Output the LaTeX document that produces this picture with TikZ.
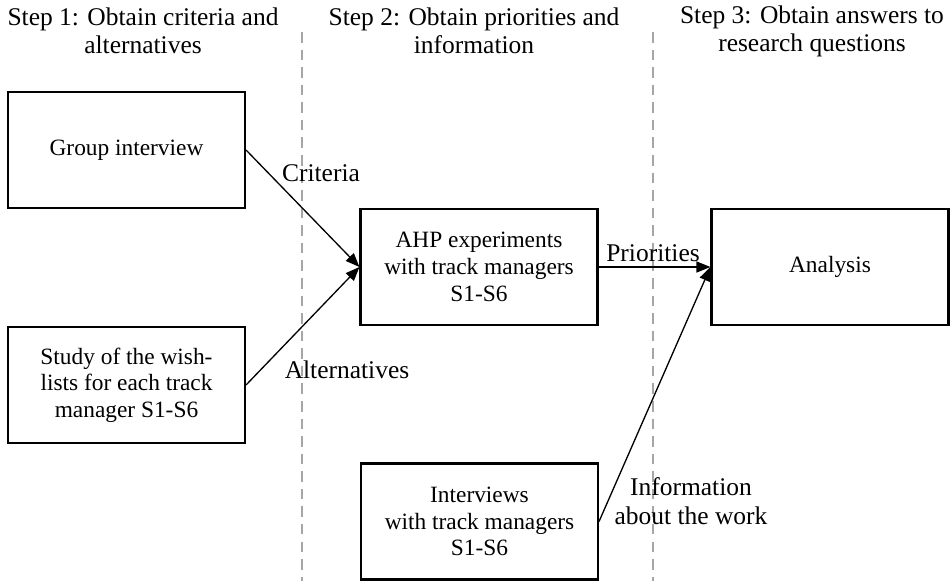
\documentclass[tikz,border=0pt]{standalone}
\usepackage{fontspec}
\setmainfont{Liberation Serif}
\usetikzlibrary{arrows.meta}

\begin{document}
\begin{tikzpicture}[
        x=0.02cm, y=-0.02cm,
        stage/.style={draw, line width=1.2pt, align=center, minimum width=4.74cm, minimum height=2.32cm, inner sep=0pt, font=\fontsize{13.3}{15.2}\selectfont},
        head/.style={align=center, font=\fontsize{14.5}{15.9}\selectfont},
        lbl/.style={align=center, inner sep=0pt, font=\fontsize{14.5}{16.4}\selectfont},
        sep/.style={gray!70, dashed, dash pattern=on 6pt off 4pt, line width=0.6pt},
        arr/.style={-{Triangle[length=0.28cm, width=0.22cm]}, line width=0.75pt}
    ]
        \useasboundingbox (0,0) rectangle (950,581);

        % step columns
        \foreach \x in {302,653}
            \draw[sep] (\x,32) -- (\x,581);
        \node[head] (h1) at (143,31) {Step 1: Obtain criteria and\\alternatives};
        \node[head] (h2) at (474,31) {Step 2: Obtain priorities and\\information};
        \node[head] (h3) at (812,31) {Step 3: Obtain answers to\\research questions};

        \node[stage] (gi) at (126.5,150) {Group interview};
        \node[stage] (wl) at (126.5,385) {Study of the wish-\\lists for each track\\manager S1-S6};
        \node[stage] (ahp) at (479,267) {AHP experiments\\with track managers\\S1-S6};
        \node[stage] (iv) at (479.5,521.5) {Interviews\\with track managers\\S1-S6};
        \node[stage] (an) at (830,267) {Analysis};

        \draw[arr] (gi.east) -- (ahp.west);
        \draw[arr] (wl.east) -- (ahp.west);
        \draw[arr] (ahp.east) -- (an.west);
        \draw[arr] (iv.east) -- (an.west);

        \node[lbl] (l1) at (321,173) {Criteria};
        \node[lbl] (l2) at (347,370) {Alternatives};
        \node[lbl] (l3) at (653,253) {Priorities};
        \node[lbl] (l4) at (691,501) {Information\\about the work};
\end{tikzpicture}
\end{document}
